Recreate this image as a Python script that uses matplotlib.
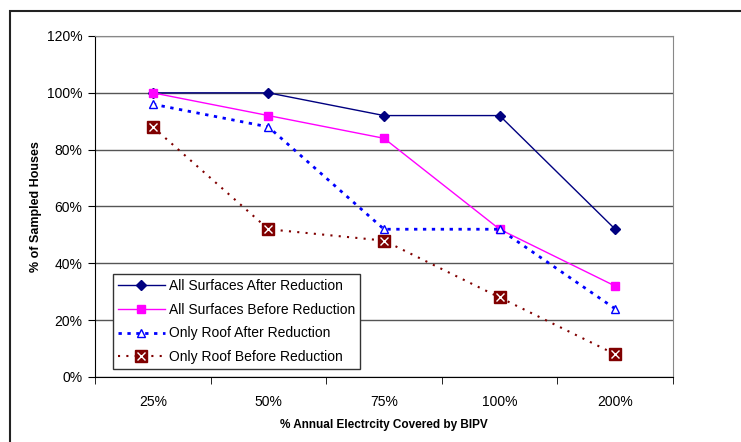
import matplotlib
matplotlib.use('Agg')
import matplotlib.pyplot as plt
from matplotlib.patches import Rectangle
from matplotlib.legend_handler import HandlerTuple
from matplotlib.lines import Line2D
import numpy as np

plt.rcParams['font.family'] = ['Liberation Sans', 'DejaVu Sans']

categories = ['25%', '50%', '75%', '100%', '200%']
all_after = [100, 100, 92, 92, 52]
all_before = [100, 92, 84, 52, 32]
roof_after = [96, 88, 52, 52, 24]
roof_before = [88, 52, 48, 28, 8]

fig = plt.figure(figsize=(7.41, 4.42), dpi=100)
W, H = 741, 442
ax = fig.add_axes([95 / W, 1 - 377 / H, (673 - 95) / W, (377 - 36) / H])

# outer chart border
fig.patches.append(Rectangle((10 / W, -0.1), 1.2, 1 - 11 / H + 0.1, transform=fig.transFigure,
                             fill=False, edgecolor='#222222', linewidth=1.5, zorder=0))

x = np.arange(len(categories))

ax.plot(x, all_after, color='#000080', lw=1, marker='D', ms=5, zorder=5)
ax.plot(x, all_before, color='#FF00FF', lw=1, marker='s', ms=5.5, zorder=5)
ax.plot(x, roof_after, color='#0000FF', lw=2, ls=(0, (1.2, 2)), marker='^', ms=6,
        mfc='white', mec='#0000FF', mew=1, zorder=5)
ax.plot(x, roof_before, color='#800000', lw=1.5, ls=(0, (1, 3)), marker='s', ms=8.5,
        mec='#800000', zorder=5)
ax.plot(x, roof_before, ls='none', marker='x', ms=6, color='white', mew=1, zorder=6)

ax.set_xlim(-0.5, len(categories) - 0.5)
ax.set_ylim(0, 120)
ax.set_yticks(range(0, 121, 20))
ax.set_yticklabels([f'{v}%' for v in range(0, 121, 20)])
ax.set_xticks(x)
ax.set_xticklabels(categories)
ax.set_xticks(np.arange(-0.5, len(categories), 1), minor=True)
ax.tick_params(axis='x', which='major', length=0, pad=13, labelsize=10)
ax.tick_params(axis='x', which='minor', length=5, direction='out', color='black')
ax.tick_params(axis='y', length=5, direction='out', labelsize=10, pad=4)

ax.grid(axis='y', color='#555555', lw=1)
ax.set_axisbelow(True)
for s in ['top', 'right']:
    ax.spines[s].set_color('#888888')
ax.spines['left'].set_color('black')
ax.spines['bottom'].set_color('black')

ax.set_xlabel('% Annual Electrcity Covered by BIPV', fontsize=8.5, fontweight='bold', va='center')
ax.set_ylabel('% of Sampled Houses', fontsize=9, fontweight='bold', va='center')
ax.xaxis.set_label_coords(0.5, (377 - 425) / 341)
ax.yaxis.set_label_coords((36 - 95) / 578, 0.5)

h = [Line2D([], [], color='#000080', lw=1, marker='D', ms=5),
     Line2D([], [], color='#FF00FF', lw=1, marker='s', ms=5.5),
     Line2D([], [], color='#0000FF', lw=2, ls=(0, (1.2, 2)), marker='^', ms=6, mfc='white'),
     (Line2D([], [], color='#800000', lw=1.5, ls=(0, (1, 3)), marker='s', ms=8.5),
      Line2D([], [], ls='none', marker='x', ms=6, color='white', mew=1))]
labels = ['All Surfaces After Reduction', 'All Surfaces Before Reduction',
          'Only Roof After Reduction', 'Only Roof Before Reduction']
leg = ax.legend(h, labels, loc='lower left', bbox_to_anchor=(18 / 578, 8 / 341),
                handler_map={tuple: HandlerTuple(ndivide=1)}, fontsize=10, handlelength=3.4,
                fancybox=False, framealpha=1, edgecolor='#333333', borderaxespad=0,
                labelspacing=0.7, handletextpad=0.25, borderpad=0.35)
leg.get_frame().set_linewidth(1)
leg.set_zorder(10)

fig.savefig('out.png', dpi=100)
